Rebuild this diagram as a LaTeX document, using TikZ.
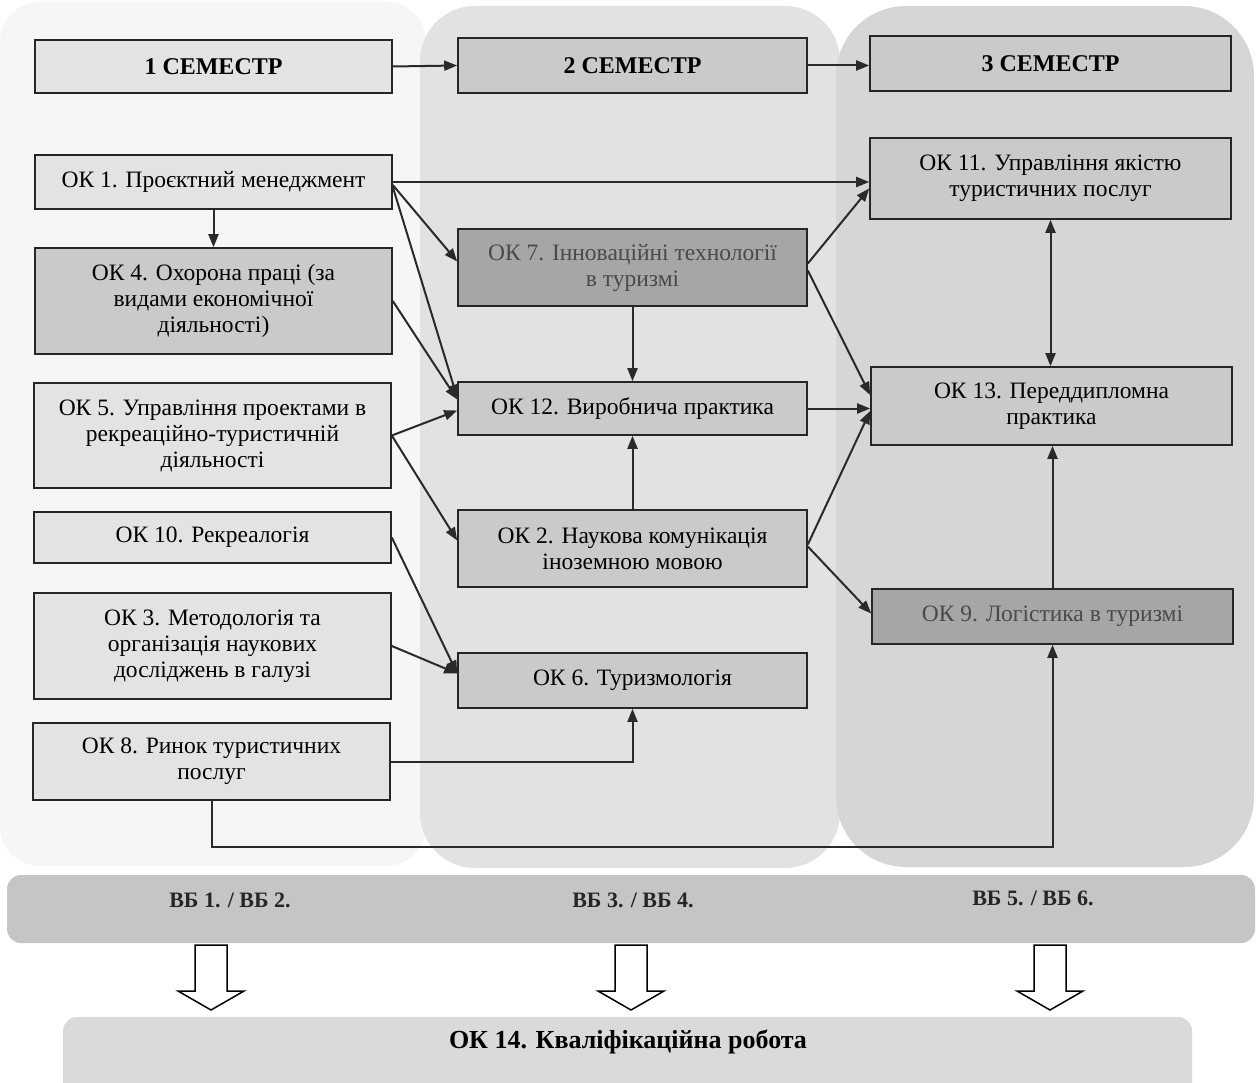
\documentclass[tikz,border=0pt]{standalone}
\usepackage{fontspec}
\setmainfont{Liberation Serif}
\usetikzlibrary{arrows.meta,calc}
\definecolor{leftfill}{HTML}{E3E3E3}
\definecolor{leftdark}{HTML}{CACACA}
\definecolor{dotfill}{HTML}{CACACA}
\definecolor{darkfill}{HTML}{A6A6A6}
\definecolor{darktext}{HTML}{4A4A4A}
\definecolor{midreg}{HTML}{E2E2E2}
\definecolor{rightreg}{HTML}{D6D6D6}
\definecolor{leftreg}{HTML}{F6F6F6}
\definecolor{vbband}{HTML}{C5C5C5}
\definecolor{okband}{HTML}{DADADA}
\definecolor{linecol}{HTML}{2A2A2A}
\begin{document}
\begin{tikzpicture}[x=1pt,y=-1pt,
  box/.style={draw=black!85, line width=1.6pt, align=center, inner sep=0pt,
    font=\fontsize{23.5}{26}\selectfont, text=black},
  lbox/.style={box, fill=leftfill, minimum width=357pt},
  mbox/.style={box, fill=dotfill, minimum width=349pt},
  rbox/.style={box, fill=dotfill, minimum width=361pt},
  darkbox/.style={fill=darkfill, text=darktext},
  semtext/.style={font=\fontsize{24}{28}\selectfont\bfseries},
  con/.style={draw=linecol, line width=2pt, -{Triangle[length=13pt,width=10pt]}},
  bandtext/.style={font=\fontsize{22}{26}\selectfont\bfseries, text=black!85, inner sep=0pt},
  hollow/.style={draw=black, line width=1.5pt, fill=white}
]
\useasboundingbox (0,0) rectangle (1257,1083);
\fill[white] (0,0) rectangle (1257,1083);

% background regions
\fill[leftreg, rounded corners=40pt] (0,2) rectangle (426,866);
\fill[midreg, rounded corners=55pt] (420,6) rectangle (840,868);
\fill[rightreg, rounded corners=70pt] (836,6) rectangle (1254,867);

% bottom bands
\fill[vbband, rounded corners=14pt] (7,875) rectangle (1255,943);
\fill[okband, rounded corners=14pt] (63,1017) rectangle (1192,1100);

% left column
\node[lbox, semtext, minimum height=53pt] (sem1) at (213.5,66.5) {1 СЕМЕСТР};
\node[lbox, minimum height=54pt] (ok1) at (213.5,182) {ОК 1. Проєктний менеджмент};
\node[lbox, fill=leftdark, minimum height=106pt] (ok4) at (213.5,301) {ОК 4. Охорона праці (за\\видами економічної\\діяльності)};
\node[lbox, minimum height=105pt] (ok5) at (212.5,435.5) {ОК 5. Управління проектами в\\рекреаційно-туристичній\\діяльності};
\node[lbox, minimum height=51pt] (ok10) at (212.5,537.5) {ОК 10. Рекреалогія};
\node[lbox, minimum height=106pt] (ok3) at (212.5,646) {ОК 3. Методологія та\\організація наукових\\досліджень в галузі};
\node[lbox, minimum height=77pt] (ok8) at (211.5,761.5) {ОК 8. Ринок туристичних\\послуг};

% middle column
\node[mbox, semtext, minimum height=55pt] (sem2) at (632.5,65.5) {2 СЕМЕСТР};
\node[mbox, darkbox, minimum height=77pt] (ok7) at (632.5,267.5) {ОК 7. Інноваційні технології\\в туризмі};
\node[mbox, minimum height=53pt] (ok12) at (632.5,408.5) {ОК 12. Виробнича практика};
\node[mbox, minimum height=77pt] (ok2) at (632.5,548.5) {ОК 2. Наукова комунікація\\іноземною мовою};
\node[mbox, minimum height=55pt] (ok6) at (632.5,680.5) {ОК 6. Туризмологія};

% right column
\node[rbox, semtext, minimum height=55pt] (sem3) at (1050.5,63.5) {3 СЕМЕСТР};
\node[rbox, minimum height=81pt] (ok11) at (1050.5,178.5) {ОК 11. Управління якістю\\туристичних послуг};
\node[rbox, minimum height=78pt] (ok13) at (1051.5,406) {ОК 13. Переддипломна\\практика};
\node[rbox, darkbox, minimum height=55pt] (ok9) at (1052.5,616.5) {ОК 9. Логістика в туризмі};

% band texts
\node[bandtext] (vb12) at (230,900) {ВБ 1. / ВБ 2.};
\node[bandtext] (vb34) at (633,900) {ВБ 3. / ВБ 4.};
\node[bandtext] (vb56) at (1033,898) {ВБ 5. / ВБ 6.};
\node[bandtext, font=\fontsize{26}{30}\selectfont\bfseries, text=black] (ok14) at (628,1042) {ОК 14. Кваліфікаційна робота};

% hollow arrows
\foreach \c in {211,631,1050}{
  \draw[hollow] (\c-16,945) -- (\c+16,945) -- (\c+16,991) -- (\c+33,991)
    -- (\c,1010) -- (\c-33,991) -- (\c-16,991) -- cycle;
}

% semester arrows
\draw[con] (sem1.east) -- (sem2.west);
\draw[con] (sem2.east) -- (sem2.east -| sem3.west);

% left to middle/right
\draw[con] (ok1.south) -- (ok4.north);
\draw[con] (ok1.east) -- (ok1.east -| ok11.west);
\draw[con] ($(ok1.east)+(0,3)$) -- ($(ok7.west)+(0,-6)$);
\draw[con] ($(ok1.east)+(0,5)$) -- ($(ok12.west)+(0,-11)$);
\draw[con] (ok4.east) -- ($(ok12.west)+(0,-9)$);
\draw[con] (ok5.east) -- ($(ok12.west)+(0,2)$);
\draw[con] (ok5.east) -- ($(ok2.west)+(0,-8)$);
\draw[con] (ok10.east) -- ($(ok6.west)+(0,-7)$);
\draw[con] (ok3.east) -- ($(ok6.west)+(0,-7)$);
\draw[con] (ok8.east) -| (ok6.south);
\coordinate (low) at (0,847);
\draw[con] (ok8.south) -- (ok8.south |- low) -| (ok9.south);

% middle column internal
\draw[con] (ok7.south) -- (ok12.north);
\draw[con] (ok2.north) -- (ok12.south);

% middle to right
\draw[con] ($(ok7.east)+(0,-4)$) -- ($(ok11.west)+(0,10)$);
\draw[con] ($(ok7.east)+(0,3)$) -- ($(ok13.west)+(0,-11)$);
\draw[con] (ok12.east) -- (ok12.east -| ok13.west);
\draw[con] ($(ok2.east)+(0,-4)$) -- ($(ok13.west)+(0,5)$);
\draw[con] ($(ok2.east)+(0,-2)$) -- ($(ok9.west)+(0,-3)$);

% right column internal
\draw[con, {Triangle[length=13pt,width=10pt]}-{Triangle[length=13pt,width=10pt]}] (ok11.south) -- (ok11.south |- ok13.north);
\draw[con] (ok9.north) -- (ok9.north |- ok13.south);
\end{tikzpicture}
\end{document}
